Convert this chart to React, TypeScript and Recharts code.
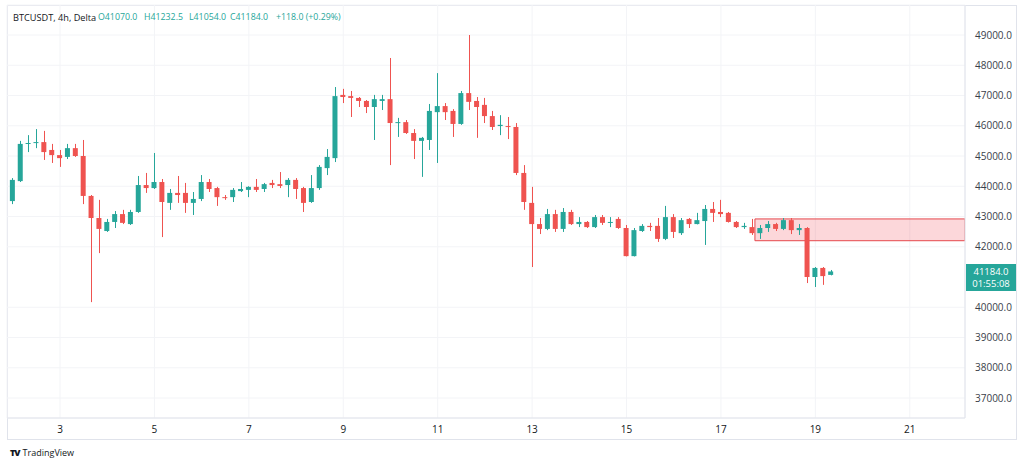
import React from 'react';
import { ComposedChart, Bar, XAxis, YAxis, CartesianGrid, ReferenceArea } from 'recharts';

// ── 4h candles, starting day 2 00:00 ─────────────────────────────────────
const START_DAY = 2;
const BARS_PER_DAY = 6;

const OPENS = [
  43510, 44170, 45400, 45430, 45460, 45200, 45030, 44970, 45260, 45000,
  43680, 42950, 42520, 42820, 43080, 42750, 43150, 44040, 43940, 44140,
  43450, 43780, 43780, 43450, 43580, 44140, 43940, 43640, 43640, 43840,
  43880, 43980, 43910, 44110, 44070, 44040, 44210, 43940, 43480, 43940,
  44600, 44930, 47020, 46980, 46920, 46820, 46620, 46820, 46880, 46090,
  46120, 45760, 45500, 45530, 46450, 46650, 46490, 46060, 47080, 46820,
  46690, 46320, 45990, 45990, 45960, 44440, 43450, 42750, 42590, 43080,
  42590, 43150, 42750, 42820, 42650, 42980, 42790, 42920, 42620, 41690,
  42520, 42690, 42690, 42260, 42980, 42450, 42920, 42750, 42850, 43250,
  43150, 43120, 42820, 42650, 42650, 42450, 42620, 42750, 42590, 42880,
  42550, 42620, 41000, 41300, 41070,
];
const HIGHS = [
  44270, 45500, 45690, 45890, 45830, 45400, 45200, 45400, 45400, 45530,
  43710, 43550, 42920, 43180, 43220, 43220, 44340, 44440, 45100, 44240,
  43910, 44340, 44110, 43810, 44370, 44240, 43980, 43710, 43940, 44140,
  44000, 44240, 44110, 44210, 44470, 44270, 44270, 43980, 44370, 44700,
  45230, 47280, 47220, 47150, 46950, 46850, 47020, 47020, 48240, 46260,
  46190, 45890, 45630, 46720, 47740, 46750, 46550, 47150, 49000, 46950,
  46920, 46490, 46350, 46290, 46090, 44700, 43980, 42950, 43250, 43220,
  43280, 43220, 42980, 42850, 43050, 43050, 42980, 42980, 42720, 42620,
  42750, 42790, 42950, 43350, 43080, 42950, 42950, 43120, 43380, 43480,
  43550, 43150, 42850, 42790, 42920, 42720, 42850, 42790, 42950, 42950,
  42750, 42650, 41330, 41330, 41232.5,
];
const LOWS = [
  43410, 44140, 45130, 45260, 44870, 44770, 44640, 44900, 44970, 43410,
  40170, 41790, 42490, 42620, 42750, 42720, 43120, 43780, 43910, 42320,
  43220, 43450, 43120, 43050, 43510, 43810, 43350, 43550, 43480, 43810,
  43640, 43810, 43810, 43940, 43940, 43640, 43580, 43150, 43450, 43880,
  44370, 44800, 46750, 46290, 46620, 46420, 45530, 46520, 44700, 45630,
  45730, 44900, 44310, 45200, 44770, 46190, 45630, 46030, 46520, 45600,
  46090, 45860, 45690, 45560, 44370, 43220, 41330, 42420, 42550, 42490,
  42490, 42720, 42650, 42620, 42620, 42720, 42650, 42590, 41680, 41680,
  42490, 42520, 42160, 42220, 42290, 42390, 42620, 42740, 42060, 42820,
  42980, 42800, 42620, 42590, 42390, 42260, 42490, 42520, 42550, 42420,
  42390, 40800, 40670, 40740, 41054,
];
const CLOSES = [
  44210, 45400, 45430, 45460, 45130, 45030, 44930, 45260, 45000, 43680,
  42950, 42590, 42820, 43080, 42790, 43150, 44040, 43940, 44140, 43480,
  43780, 43710, 43450, 43580, 44140, 43910, 43640, 43610, 43880, 43910,
  43980, 43880, 44070, 44040, 44010, 44210, 43910, 43450, 43940, 44640,
  44970, 46980, 46950, 46920, 46820, 46620, 46880, 46880, 46090, 46120,
  45760, 45500, 45600, 46490, 46650, 46450, 46060, 47080, 46790, 46620,
  46320, 45960, 46030, 45960, 44440, 43480, 42750, 42590, 43080, 42590,
  43150, 42750, 42820, 42650, 42980, 42790, 42820, 42620, 41690, 42550,
  42690, 42650, 42260, 42980, 42490, 42880, 42750, 42880, 43250, 43120,
  43080, 42820, 42650, 42690, 42450, 42620, 42750, 42590, 42880, 42550,
  42620, 41000, 41300, 41030, 41184,
];

const DAY_TICKS = [3, 5, 7, 9, 11, 13, 15, 17, 19, 21];
// 41000.0 sits under the last-price tag, so it isn't labelled
const PRICE_TICKS = [37000, 38000, 39000, 40000, 42000, 43000, 44000, 45000, 46000, 47000, 48000, 49000];

const LEGEND_VALUES = ['O41070.0', 'H41232.5', 'L41054.0', 'C41184.0', '+118.0 (+0.29%)'];
const LEGEND_LEFT = [98, 144, 189, 230, 276];

// supply zone drawn on the chart
const ZONE_START_DAY = 17.72;
const ZONE_LOW = 42200;
const ZONE_HIGH = 42920;

const UP = '#26a69a';
const DOWN = '#ef5350';
const BORDER = '#e0e3eb';
const TEXT = '#131722';

const data = OPENS.map((open, i) => ({
  t: START_DAY + i / BARS_PER_DAY,
  open,
  high: HIGHS[i],
  low: LOWS[i],
  close: CLOSES[i],
  range: [LOWS[i], HIGHS[i]],
}));

function Candle(props: any) {
  const { x, y, width, height, payload } = props;
  if (x == null || y == null) return null;
  const { open, close, high, low } = payload;
  const color = close >= open ? UP : DOWN;
  const top = Math.min(y, y + height);
  const h = Math.abs(height);
  const span = high - low || 1;
  const toY = (p: number) => top + ((high - p) / span) * h;
  const cx = Math.round(x + width / 2) + 0.5;
  const bTop = toY(Math.max(open, close));
  const bBot = toY(Math.min(open, close));
  return (
    <g>
      <line x1={cx} x2={cx} y1={top} y2={top + h} stroke={color} strokeWidth={1} />
      <rect x={x} y={bTop} width={width} height={Math.max(1, bBot - bTop)} fill={color} />
    </g>
  );
}

const font = "'Open Sans', 'Noto Sans', sans-serif";

export default function App() {
  return (
    <div style={{ position: 'absolute', left: 0, top: 0, width: 1024, height: 467, background: '#fff', fontFamily: font }}>

      {/* ── outer frame ── */}
      <div
        style={{
          position: 'absolute', left: 7, top: 5, width: 1010, height: 435,
          border: `1px solid ${BORDER}`, boxSizing: 'border-box',
        }}
      />

      <div style={{ position: 'absolute', left: 0, top: 0 }}>
        <ComposedChart
          width={1024}
          height={467}
          data={data}
          margin={{ top: 5, right: 7, bottom: 27, left: 7 }}
        >
          <CartesianGrid stroke="#f3f4f7" />
          <XAxis
            type="number"
            dataKey="t"
            domain={[1.877, 22.17]}
            ticks={DAY_TICKS}
            allowDataOverflow
            height={22}
            tickLine={false}
            tickMargin={2}
            axisLine={{ stroke: BORDER }}
            tick={{ fontSize: 10, fill: TEXT, fontFamily: font }}
          />
          <YAxis
            orientation="right"
            domain={[36339, 49992]}
            ticks={PRICE_TICKS}
            allowDataOverflow
            width={52}
            tickLine={false}
            tickMargin={4}
            axisLine={{ stroke: BORDER }}
            tickFormatter={(v: number) => v.toFixed(1)}
            tick={{ fontSize: 10, fill: '#3a3e4a', fontFamily: font }}
          />
          <ReferenceArea
            x1={ZONE_START_DAY}
            x2={22.17}
            y1={ZONE_LOW}
            y2={ZONE_HIGH}
            fill="#f23645"
            fillOpacity={0.2}
            stroke="#e5484d"
            strokeWidth={1}
            ifOverflow="hidden"
          />
          <Bar
            dataKey="range"
            barSize={5}
            shape={<Candle />}
            isAnimationActive={false}
          />
        </ComposedChart>
      </div>

      {/* ── Header legend ── */}
      <div style={{ position: 'absolute', left: 13, top: 11, fontSize: 9.2, color: TEXT, whiteSpace: 'nowrap' }}>
        BTCUSDT, 4h, Delta
      </div>
      {LEGEND_VALUES.map((v, i) => (
        <div
          key={i}
          style={{ position: 'absolute', left: LEGEND_LEFT[i], top: 11.3, fontSize: 8.8, color: UP, whiteSpace: 'nowrap' }}
        >
          {v}
        </div>
      ))}

      {/* ── Last price tag ── */}
      <div
        style={{
          position: 'absolute', left: 966, top: 264, width: 50, height: 27,
          background: UP, color: '#fff', fontSize: 9.5, lineHeight: '12px',
          textAlign: 'center', paddingTop: 1.5, boxSizing: 'border-box',
        }}
      >
        <div>41184.0</div>
        <div>01:55:08</div>
      </div>

      {/* ── Branding ── */}
      <div style={{ position: 'absolute', left: 10, top: 446, fontSize: 9, color: TEXT, whiteSpace: 'nowrap' }}>
        <span style={{ fontWeight: 800, letterSpacing: '-1px', marginRight: 3 }}>TV</span>
        TradingView
      </div>
    </div>
  );
}
